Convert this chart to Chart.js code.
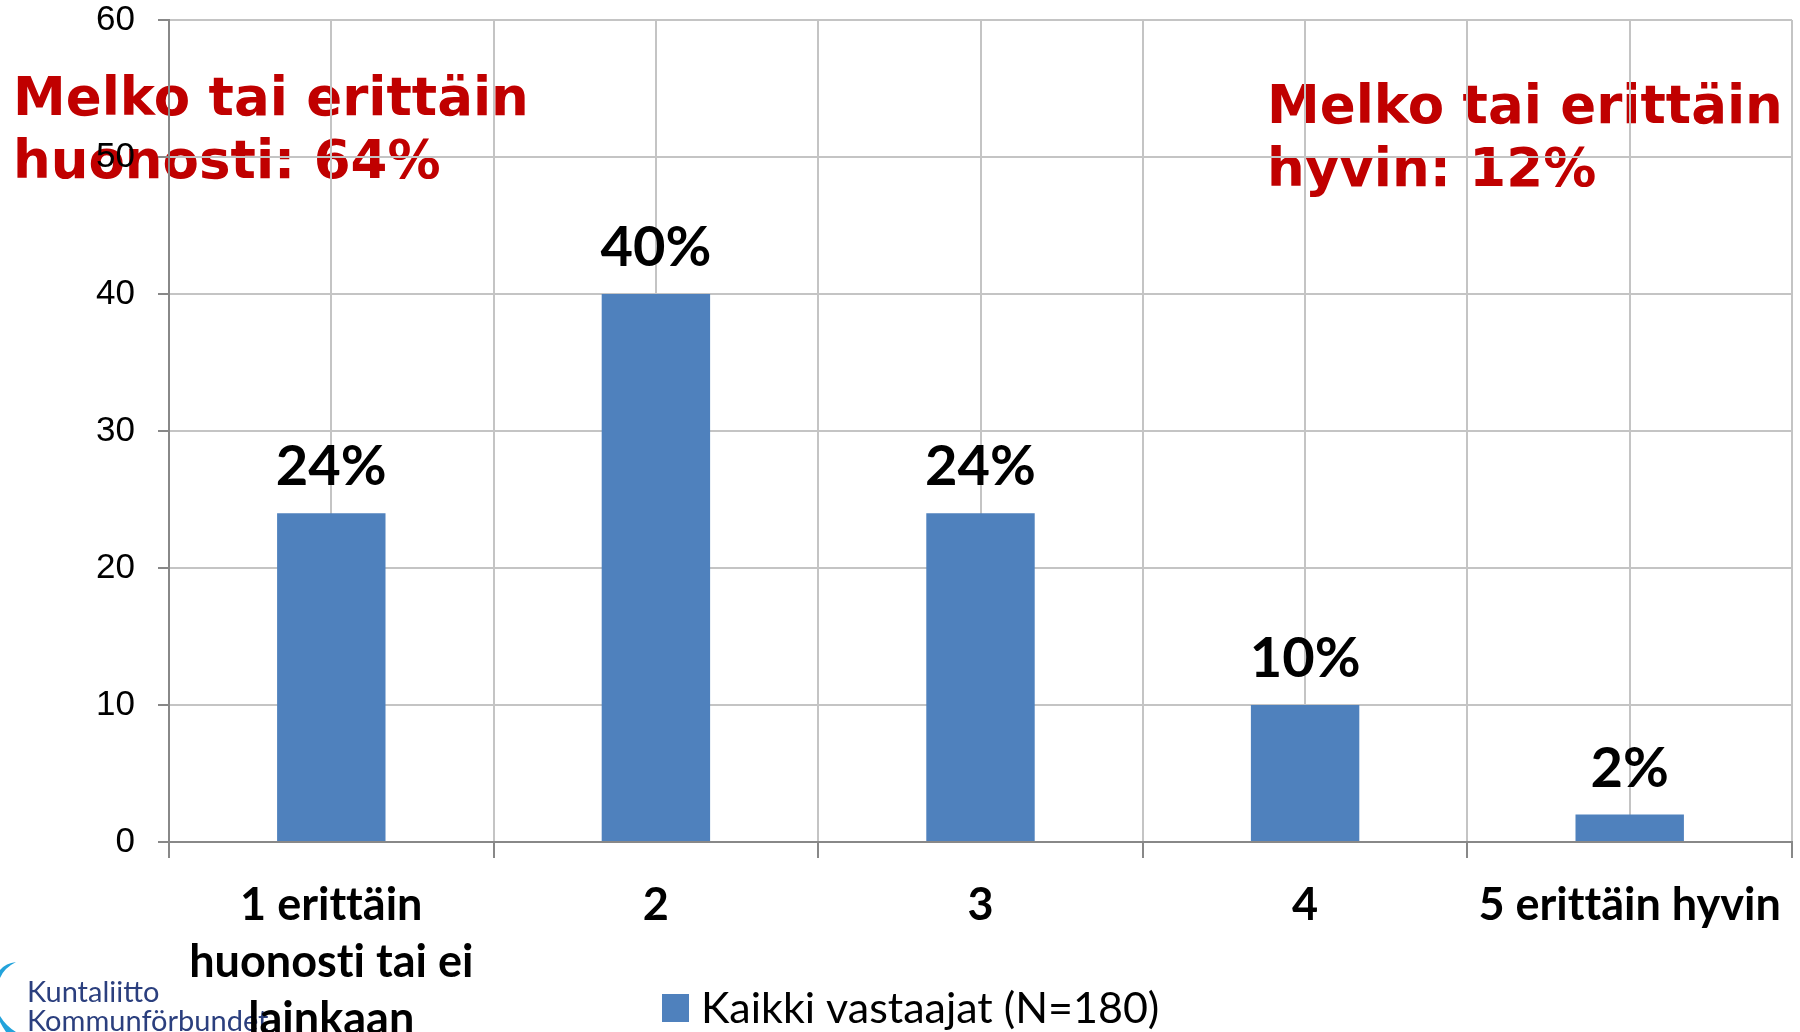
<!DOCTYPE html>
<html>
<head>
<meta charset="utf-8">
<script src="https://cdn.jsdelivr.net/npm/chart.js@4.4.1/dist/chart.umd.min.js"></script>
<style>
	body { margin: 0; background: #fff; }
	#wrap { width: 1800px; height: 1032px; position: relative; }
</style>
</head>
<body>
<div id="wrap"><canvas id="chart"></canvas></div>
<script>
var categories = [
	['1 erittäin', 'huonosti tai ei', 'lainkaan'],
	'2',
	'3',
	'4',
	'5 erittäin hyvin'
];
var values = [24, 40, 24, 10, 2];
var seriesName = 'Kaikki vastaajat (N=180)';
var yTicks = [0, 10, 20, 30, 40, 50, 60];
var noteLeft = ['Melko tai erittäin', 'huonosti: 64%'];
var noteRight = ['Melko tai erittäin', 'hyvin: 12%'];
var logoLines = ['Kuntaliitto', 'Kommunförbundet'];

var gridColor = '#c4c4c4';
var axisColor = '#888888';

// red notes + logo go under everything else
var backdrop = {
	id: 'backdrop',
	beforeDraw: function(chart) {
		var ctx = chart.ctx;
		ctx.save();
		ctx.fillStyle = '#fff';
		ctx.fillRect(0, 0, chart.width, chart.height);

		ctx.fillStyle = '#c00000';
		ctx.font = 'bold 53px "DejaVu Sans"';
		ctx.textBaseline = 'alphabetic';
		ctx.textAlign = 'left';
		ctx.fillText(noteLeft[0], 13, 115);
		ctx.fillText(noteLeft[1], 13, 178);
		ctx.fillText(noteRight[0], 1267, 123);
		ctx.fillText(noteRight[1], 1267, 186);

		// logo
		ctx.fillStyle = '#23a3db';
		ctx.beginPath();
		ctx.moveTo(16, 962);
		ctx.quadraticCurveTo(4, 968, 0, 978);
		ctx.lineTo(0, 970);
		ctx.quadraticCurveTo(6, 963, 16, 962);
		ctx.fill();
		ctx.beginPath();
		ctx.moveTo(0, 1016);
		ctx.quadraticCurveTo(6, 1026, 16, 1032);
		ctx.lineTo(6, 1032);
		ctx.quadraticCurveTo(2, 1026, 0, 1022);
		ctx.fill();
		ctx.fillStyle = '#2b3f7e';
		ctx.font = '29px Lato';
		ctx.fillText(logoLines[0], 27, 1002);
		ctx.fillText(logoLines[1], 27, 1031);
		ctx.restore();
		// no "ti" ligatures in the tick labels
		ctx.textRendering = 'optimizeSpeed';
	}
};

var valueLabels = {
	id: 'valueLabels',
	afterDatasetsDraw: function(chart) {
		var ctx = chart.ctx;
		var meta = chart.getDatasetMeta(0);
		ctx.save();
		ctx.fillStyle = '#000';
		ctx.font = 'bold 56px Lato';
		ctx.textAlign = 'center';
		ctx.textBaseline = 'alphabetic';
		meta.data.forEach(function(bar, i) {
			ctx.fillText(values[i] + '%', bar.x, bar.y - 28);
		});
		ctx.restore();
	}
};

// legend sits inside the tick label band, so it is drawn by hand
var bottomLegend = {
	id: 'bottomLegend',
	afterDraw: function(chart) {
		var ctx = chart.ctx;
		var ds = chart.data.datasets[0];
		ctx.save();
		ctx.fillStyle = ds.backgroundColor;
		ctx.fillRect(662, 994, 27, 28);
		ctx.fillStyle = '#000';
		ctx.font = '43px Lato';
		ctx.textAlign = 'left';
		ctx.textBaseline = 'alphabetic';
		ctx.fillText(ds.label, 701, 1023);
		ctx.restore();
	}
};

var chart = new Chart(document.getElementById('chart'), {
	type: 'bar',
	data: {
		labels: categories,
		datasets: [{
			label: seriesName,
			data: values,
			backgroundColor: '#4f81bd',
			borderWidth: 0,
			categoryPercentage: 1,
			barPercentage: 0.334
		}]
	},
	options: {
		responsive: true,
		maintainAspectRatio: false,
		animation: false,
		layout: { padding: { top: 20, right: 8, left: 0, bottom: 0 } },
		plugins: {
			tooltip: { enabled: false },
			legend: { display: false }
		},
		scales: {
			x: {
				offset: true,
				grid: { offset: true, color: gridColor, lineWidth: 2, tickLength: 16, tickColor: axisColor, tickWidth: 2 },
				border: { color: axisColor, width: 2 },
				ticks: {
					color: '#000',
					padding: 19,
					maxRotation: 0,
					autoSkip: false,
					font: { family: 'Lato', size: 45, weight: 'bold', lineHeight: 1.27 }
				},
				afterFit: function(s) {
					s.height = 190;
					s.paddingLeft = 0;
					s.paddingRight = 0;
				}
			},
			xc: {
				type: 'category',
				labels: categories,
				position: 'bottom',
				offset: true,
				grid: { offset: false, color: gridColor, lineWidth: 2, drawTicks: false },
				border: { display: false },
				ticks: { display: false },
				afterFit: function(s) { s.height = 0; }
			},
			y: {
				min: 0,
				max: 60,
				afterBuildTicks: function(s) {
					s.ticks = yTicks.map(function(v) { return { value: v }; });
				},
				grid: { color: gridColor, lineWidth: 2, tickLength: 11, tickColor: axisColor, tickWidth: 2 },
				border: { color: axisColor, width: 2 },
				ticks: {
					color: '#000',
					padding: 23,
					font: { family: 'Liberation Sans', size: 35 }
				},
				afterFit: function(s) {
					s.width = 169;
					s.paddingTop = 0;
					s.paddingBottom = 0;
				}
			}
		}
	},
	plugins: [backdrop, valueLabels, bottomLegend]
});
</script>
</body>
</html>
